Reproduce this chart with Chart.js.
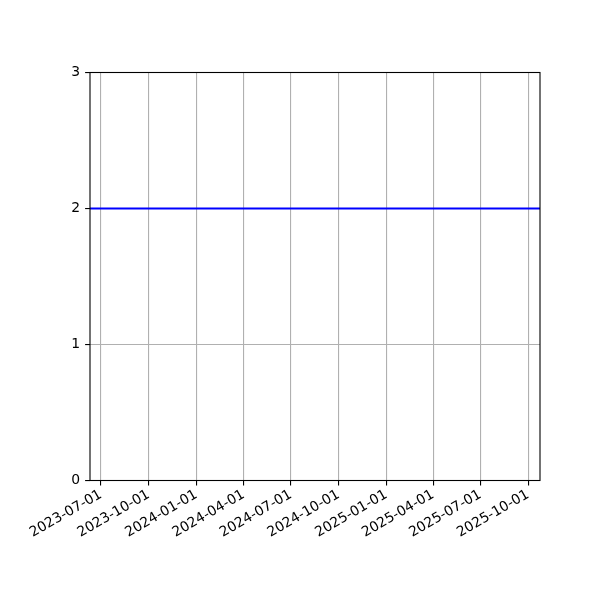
<!DOCTYPE html>
<html>
<head>
<meta charset="utf-8">
<script src="https://cdn.jsdelivr.net/npm/chart.js@4"></script>
<style>
  html, body { margin: 0; padding: 0; background: #fff; }
  canvas { display: block; }
</style>
</head>
<body>
<canvas id="lineChart" width="600" height="600"></canvas>
<script>
// data
const dates = ['2023-06-10', '2025-10-24'];
const values = [2, 2];
const tickDates = ['2023-07-01', '2023-10-01', '2024-01-01', '2024-04-01', '2024-07-01',
                   '2024-10-01', '2025-01-01', '2025-04-01', '2025-07-01', '2025-10-01'];
const yTicks = [0, 1, 2, 3];

const toMs = s => Date.parse(s + 'T00:00:00Z');
const fmt = v => new Date(v).toISOString().slice(0, 10);

const xMin = toMs('2023-06-10');
const xMax = toMs('2025-10-24');

// draws all four spines as one box
const boxPlugin = {
    id: 'box',
    afterDraw(chart) {
        const { ctx, chartArea: a } = chart;
        ctx.save();
        ctx.strokeStyle = '#000';
        ctx.lineWidth = 1.1;
        ctx.strokeRect(a.left, a.top, a.right - a.left, a.bottom - a.top);
        ctx.restore();
    }
};

const ctx = document.getElementById('lineChart').getContext('2d');

new Chart(ctx, {
    type: 'line',
    data: {
        datasets: [{
            data: dates.map((d, i) => ({ x: toMs(d), y: values[i] })),
            borderColor: '#0000ff',
            borderWidth: 2.1,
            pointRadius: 0,
            fill: false,
            tension: 0
        }]
    },
    options: {
        responsive: false,
        animation: false,
        devicePixelRatio: 1,
        layout: { padding: { top: 72.5, right: 60, left: 0, bottom: 0 } },
        plugins: {
            legend: { display: false },
            tooltip: { enabled: false }
        },
        scales: {
            x: {
                type: 'linear',
                min: xMin,
                max: xMax,
                afterBuildTicks: scale => {
                    scale.ticks = tickDates.map(d => ({ value: toMs(d) }));
                },
                afterFit: scale => { scale.height = 119.5; },
                grid: { color: '#b0b0b0', lineWidth: 1.1, tickColor: '#000', tickLength: 4.9, tickWidth: 1.1 },
                border: { display: false },
                ticks: {
                    autoSkip: false,
                    minRotation: 30,
                    maxRotation: 30,
                    padding: 1,
                    color: '#000',
                    font: { family: 'DejaVu Sans', size: 13.9 },
                    callback: v => fmt(v)
                }
            },
            y: {
                min: 0,
                max: 3,
                afterBuildTicks: scale => {
                    scale.ticks = yTicks.map(v => ({ value: v }));
                },
                afterFit: scale => { scale.width = 90; },
                grid: { color: '#b0b0b0', lineWidth: 1.1, tickColor: '#000', tickLength: 4.9, tickWidth: 1.1 },
                border: { display: false },
                ticks: {
                    padding: 4.9,
                    color: '#000',
                    font: { family: 'DejaVu Sans', size: 13.9 },
                    callback: v => String(v)
                }
            }
        }
    },
    plugins: [boxPlugin]
});
</script>
</body>
</html>
